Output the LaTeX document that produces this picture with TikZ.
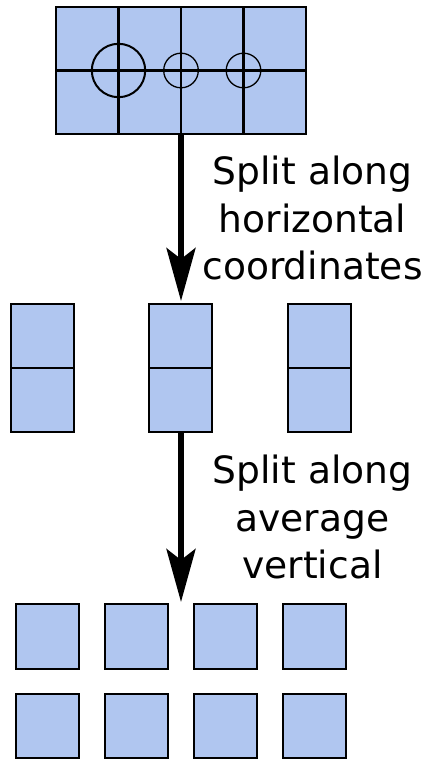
\documentclass[tikz,border=0pt]{standalone}
\usepackage{fontspec}
\setmainfont{DejaVu Sans}
\usetikzlibrary{arrows.meta}
\definecolor{cellblue}{RGB}{176,198,240}
\begin{document}
\begin{tikzpicture}[x=1pt,y=-1pt,
  cell/.style={draw=black,fill=cellblue,line width=2.2pt,inner sep=0pt,outer sep=0pt},
  topcell/.style={cell,minimum width=62.5pt,minimum height=63.5pt},
  midcell/.style={cell,minimum width=63pt,minimum height=64pt},
  botcell/.style={cell,minimum width=63.3pt,minimum height=64.3pt},
  ring/.style={draw=black,circle,inner sep=0pt,fill=none},
  bigarrow/.style={line width=5.5pt,-{Stealth[length=53pt,width=29pt,inset=11pt]}},
  lbl/.style={anchor=base,inner sep=0pt,font=\fontsize{37.6pt}{47pt}\selectfont}]
\useasboundingbox (0,0) rectangle (426,759);
% top grid
\foreach \i/\x in {1/87.25,2/149.75,3/212.25,4/274.75}{
  \node[topcell] (t\i) at (\x,38.75) {};
  \node[topcell] (b\i) at (\x,102.25) {};
}
\node[ring,line width=2pt,minimum size=53.4pt] (c1) at (118.5,70.5) {};
\node[ring,line width=1.3pt,minimum size=34.6pt] (c2) at (181,70.5) {};
\node[ring,line width=1.3pt,minimum size=34.6pt] (c3) at (243.5,70.5) {};
% middle columns
\foreach \i/\x in {1/42.5,2/180.8,3/319.2}{
  \node[midcell] (m\i u) at (\x,336.3) {};
  \node[midcell] (m\i d) at (\x,400.3) {};
}
% bottom squares
\foreach \i/\x in {1/47.3,2/136.3,3/225.3,4/314.3}{
  \node[botcell] (q\i u) at (\x,636.5) {};
  \node[botcell] (q\i d) at (\x,725.9) {};
}
% arrows
\coordinate (a1s) at (181,134);
\coordinate (a1e) at (181,301);
\coordinate (a2s) at (181,432);
\coordinate (a2e) at (181,602);
\draw[bigarrow] (a1s) -- (a1e);
\draw[bigarrow] (a2s) -- (a2e);
% labels
\node[lbl] (l11) at (312.5,185) {Split along};
\node[lbl] (l12) at (312.5,232) {horizontal};
\node[lbl] (l13) at (312.5,279) {coordinates};
\node[lbl] (l21) at (312.5,483) {Split along};
\node[lbl] (l22) at (312.5,531.5) {average};
\node[lbl] (l23) at (312.5,578.5) {vertical};
\end{tikzpicture}
\end{document}
